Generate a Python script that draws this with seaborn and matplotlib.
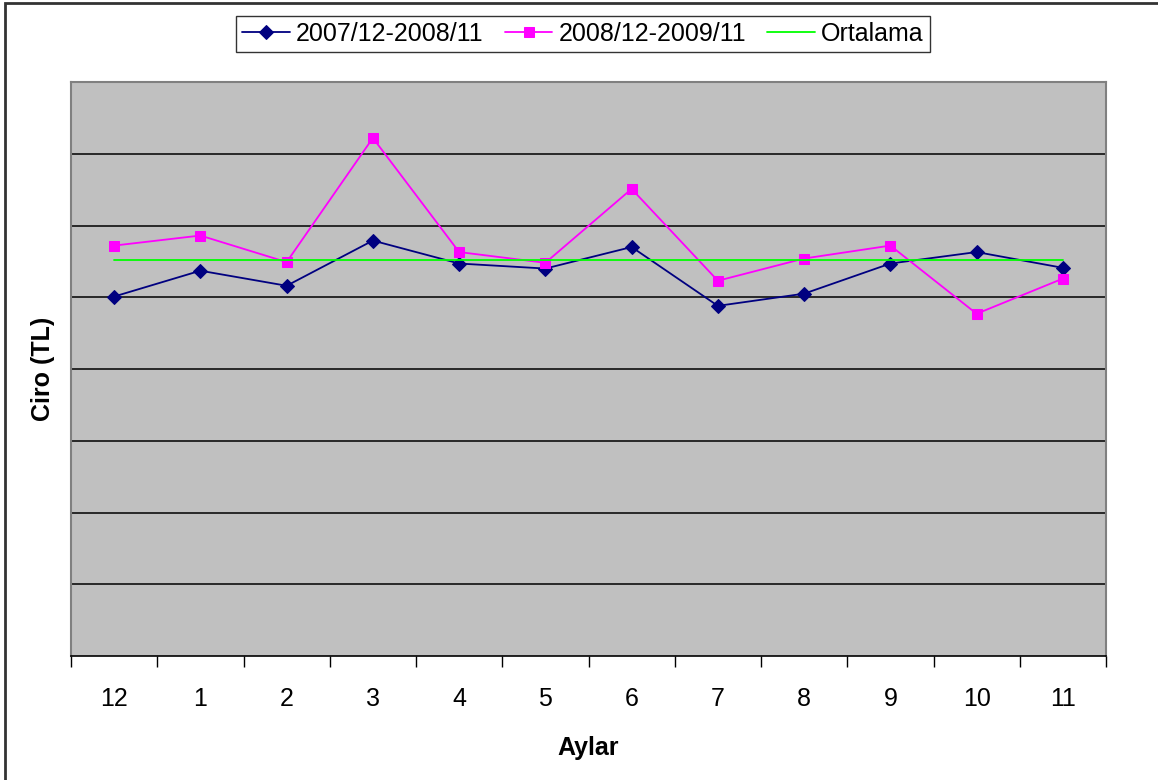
import numpy as np
import pandas as pd
import seaborn as sns
import matplotlib.pyplot as plt
from matplotlib.patches import Rectangle

months = ['12', '1', '2', '3', '4', '5', '6', '7', '8', '9', '10', '11']
ciro_2008 = [5.01, 5.37, 5.16, 5.79, 5.47, 5.40, 5.70, 4.88, 5.05, 5.47, 5.63, 5.41]
ciro_2009 = [5.72, 5.86, 5.49, 7.22, 5.63, 5.48, 6.51, 5.23, 5.54, 5.72, 4.77, 5.26]
ortalama = 5.52

sns.set_theme(style='white')
plt.rcParams['font.family'] = ['Liberation Sans', 'DejaVu Sans']
plt.rcParams['text.color'] = 'black'
plt.rcParams['axes.labelcolor'] = 'black'
plt.rcParams['xtick.color'] = 'black'
plt.rcParams['ytick.color'] = 'black'

df = pd.DataFrame({
    'pos': np.arange(len(months)),
    '2007/12-2008/11': ciro_2008,
    '2008/12-2009/11': ciro_2009,
    'Ortalama': [ortalama] * len(months),
})

fig = plt.figure(figsize=(11.58, 7.8), dpi=100)
ax = fig.add_axes([71 / 1158, 1 - 656 / 780, (1106 - 71) / 1158, (656 - 82) / 780])
ax.set_facecolor('#C0C0C0')

sns.lineplot(data=df, x='pos', y='2007/12-2008/11', ax=ax, color='#000080',
             marker='D', markersize=7.5, markeredgecolor='#000080', linewidth=1.3,
             label='2007/12-2008/11')
sns.lineplot(data=df, x='pos', y='2008/12-2009/11', ax=ax, color='#FF00FF',
             marker='s', markersize=7, markeredgecolor='#FF00FF', linewidth=1.3,
             label='2008/12-2009/11')
sns.lineplot(data=df, x='pos', y='Ortalama', ax=ax, color='#00FF00',
             linewidth=1.3, label='Ortalama')

ax.set_xlim(-0.5, len(months) - 0.5)
ax.set_ylim(0, 8)
ax.set_yticks(range(1, 8))
ax.set_yticklabels([])
ax.yaxis.grid(True, color='black', linewidth=1.1)
ax.set_axisbelow(True)
ax.tick_params(axis='y', length=0)

ax.set_xticks(np.arange(len(months)))
ax.set_xticklabels(months, fontsize=18)
ax.set_xticks(np.arange(-0.5, len(months)), minor=True)
ax.tick_params(axis='x', which='major', bottom=True, length=0, pad=22)
ax.tick_params(axis='x', which='minor', bottom=True, length=8, width=1,
               color='black', direction='out')

for side in ['left', 'right', 'top']:
    ax.spines[side].set_color('#808080')
    ax.spines[side].set_linewidth(1.5)
ax.spines['bottom'].set_color('black')
ax.spines['bottom'].set_linewidth(1.2)

ax.set_xlabel('Aylar', fontsize=18, fontweight='bold', labelpad=18)
ax.set_ylabel('Ciro (TL)', fontsize=18, fontweight='bold', labelpad=8)

ax.get_legend().remove()
handles, labels = ax.get_legend_handles_labels()
leg = fig.legend(handles, labels, loc='center', bbox_to_anchor=(583 / 1158, 1 - 34 / 780),
                 ncol=3, fontsize=18, frameon=True, fancybox=False, edgecolor='black',
                 handlelength=1.9, handletextpad=0.25, columnspacing=0.85,
                 borderpad=0.25, borderaxespad=0)
leg.get_frame().set_linewidth(1.0)

fig.patches.append(Rectangle((5 / 1158, -0.05), 1.2, 1 - 3 / 780 + 0.05,
                             transform=fig.transFigure, fill=False,
                             edgecolor='#333333', linewidth=2))

fig.savefig('out.png', dpi=100)
